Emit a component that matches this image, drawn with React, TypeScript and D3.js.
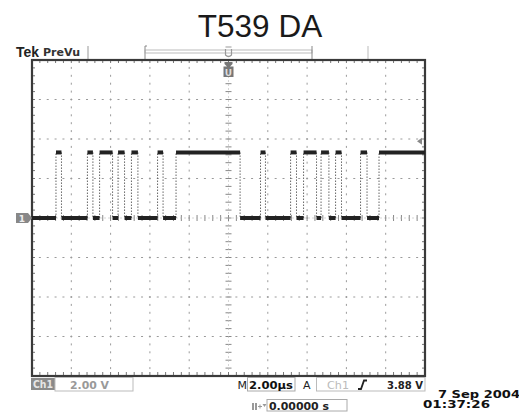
import React from "react";
import * as d3 from "d3";

// ---- data (read from the oscilloscope capture) ----
const title = "T539 DA";
// time at which the Ch1 level changes (µs), first value = left edge of screen
const transitionTimes = [-10, -8.78, -8.5, -7.18, -6.9, -6.56, -5.9, -5.62, -5.29, -4.94, -4.61, -3.61, -3.33, -2.67, 0.59, 1.63, 1.88, 3.16, 3.46, 3.82, 4.48, 4.71, 5.11, 5.45, 5.75, 6.72, 7.05, 7.66];
// level held from each transition time (V)
const levelVolts = [0, 3.32, 0, 3.32, 0, 3.32, 0, 3.32, 0, 3.32, 0, 3.32, 0, 3.32, 0, 3.32, 0, 3.32, 0, 3.32, 0, 3.32, 0, 3.32, 0, 3.32, 0, 3.32];
const timeDomain = [-10, 10]; // µs, 2.00 µs/div
const voltDomain = [-8, 8]; // V, 2.00 V/div
const triggerLevel = 3.88;
const ch1Scale = "2.00 V";
const timeScale = "2.00µs";
const trigLevelText = "3.88 V";
const positionText = "0.00000 s";
const dateText = "7 Sep 2004";
const clockText = "01:37:26";

const W = 519;
const H = 420;
const L = 32, R = 425, T = 60, B = 376;

export default function App() {
  const x = d3.scaleLinear().domain(timeDomain).range([L, R]);
  const y = d3.scaleLinear().domain(voltDomain).range([B, T]);
  const majorT = d3.range(timeDomain[0], timeDomain[1] + 0.001, 2);
  const majorV = d3.range(voltDomain[0], voltDomain[1] + 0.001, 2);
  const minorT = d3.range(timeDomain[0], timeDomain[1] + 0.001, 0.4);
  const minorV = d3.range(voltDomain[0], voltDomain[1] + 0.001, 0.4);
  const cx = x(0), cy = y(0);
  const grid = "#9a9a9a";
  const mono = "'DejaVu Sans', sans-serif";

  const segs = transitionTimes.map((t, i) => ({
    t0: t,
    t1: i + 1 < transitionTimes.length ? transitionTimes[i + 1] : timeDomain[1],
    v: levelVolts[i],
  }));
  const edges = transitionTimes.slice(1).map((t, i) => ({ t, v0: levelVolts[i], v1: levelVolts[i + 1] }));
  const lineGen = d3.line<[number, number]>().x((d) => x(d[0])).y((d) => y(d[1]));

  return (
    <svg width={W} height={H} style={{ position: "absolute", left: 0, top: 0, background: "#fff" }}>
      <text x={260} y={37} textAnchor="middle" fontFamily="'Liberation Sans', Arial, sans-serif" fontSize={31.5} fill="#1a1a1a">{title}</text>

      {/* header */}
      <text x={16} y={56.5} fontFamily="'Liberation Sans', Arial, sans-serif" fontWeight="bold" fontSize={14} fill="#222" textLength={23} lengthAdjust="spacingAndGlyphs">Tek</text>
      <text x={43} y={56} fontFamily={mono} fontWeight="bold" fontSize={11} fill="#333" textLength={37} lengthAdjust="spacingAndGlyphs">PreVu</text>
      <line x1={88} x2={88} y1={46} y2={59} stroke="#999" />
      <line x1={145} x2={145} y1={46} y2={59} stroke="#888" />
      <line x1={145} x2={147} y1={46} y2={46} stroke="#888" />
      <rect x={145} y={50} width={167} height={3} fill="none" stroke="#aaa" strokeWidth={0.8} />
      <line x1={312} x2={312} y1={46} y2={59} stroke="#888" />
      <line x1={368} x2={368} y1={46} y2={59} stroke="#bbb" />
      <path d={`M${cx - 3},47 L${cx + 3},47 M${cx - 3},49 L${cx - 3},55 Q${cx},58 ${cx + 3},55 L${cx + 3},49`} fill="none" stroke="#999" strokeWidth={1.2} />

      {/* grid dots */}
      {majorT.filter((t) => t !== 0 && t !== timeDomain[0] && t !== timeDomain[1]).map((t) =>
        minorV.map((v) => <line key={`gv${t}_${v}`} x1={x(t)} x2={x(t)} y1={y(v) - 1} y2={y(v) + 1} stroke={grid} strokeWidth={1} />)
      )}
      {majorV.filter((v) => v !== 0 && v !== voltDomain[0] && v !== voltDomain[1]).map((v) =>
        minorT.map((t) => <line key={`gh${t}_${v}`} x1={x(t) - 1} x2={x(t) + 1} y1={y(v)} y2={y(v)} stroke={grid} strokeWidth={1} />)
      )}
      {/* center cross */}
      {minorV.map((v) => <line key={`cv${v}`} x1={cx - 3} x2={cx + 3} y1={y(v)} y2={y(v)} stroke="#888" strokeWidth={1} />)}
      <line x1={cx} x2={cx} y1={T} y2={B} stroke="#bbb" strokeWidth={0.6} strokeDasharray="2 2" />
      {minorT.map((t) => <line key={`ch${t}`} x1={x(t)} x2={x(t)} y1={cy - 3} y2={cy + 3} stroke="#888" strokeWidth={1} />)}
      <line x1={L} x2={R} y1={cy} y2={cy} stroke="#bbb" strokeWidth={0.6} strokeDasharray="2 2" />

      {/* border ticks */}
      {minorT.map((t) => (
        <g key={`bt${t}`}>
          <line x1={x(t)} x2={x(t)} y1={T} y2={T + 3} stroke="#777" />
          <line x1={x(t)} x2={x(t)} y1={B} y2={B - 4} stroke="#777" />
        </g>
      ))}
      {minorV.map((v) => (
        <g key={`bv${v}`}>
          <line x1={L} x2={L + 3} y1={y(v)} y2={y(v)} stroke="#777" />
          <line x1={R} x2={R - 3} y1={y(v)} y2={y(v)} stroke="#777" />
        </g>
      ))}
      <rect x={L} y={T} width={R - L} height={B - T} fill="none" stroke="#3a3a3a" strokeWidth={2.2} />

      {/* waveform edges */}
      {edges.map((e, i) => (
        <path key={`e${i}`} d={lineGen([[e.t, e.v0], [e.t, e.v1]]) || ""} stroke="#666" strokeWidth={1} strokeDasharray="1.5 1.5" fill="none" />
      ))}
      {/* waveform levels */}
      {segs.map((s, i) => (
        <path key={`s${i}`} d={lineGen([[s.t0, s.v], [s.t1, s.v]]) || ""} stroke="#222" strokeWidth={4} fill="none" />
      ))}

      {/* markers */}
      <path d={`M${cx - 4},62 L${cx + 4},62 L${cx + 4},64 L${cx + 1.5},66.5 L${cx + 5},66.5 L${cx + 5},77 L${cx - 5},77 L${cx - 5},66.5 L${cx - 1.5},66.5 L${cx - 4},64 Z`} fill="#777" />
      <text x={cx} y={75.5} textAnchor="middle" fontFamily={mono} fontWeight="bold" fontSize={9} fill="#ddd">U</text>
      <path d={`M16,213 L28,213 L32,${cy} L28,223 L16,223 Z`} fill="#888" />
      <text x={22} y={221.5} textAnchor="middle" fontFamily={mono} fontWeight="bold" fontSize={9} fill="#eee">1</text>
      <path d={`M417,${y(triggerLevel)} L422,${y(triggerLevel) - 3.5} L422,${y(triggerLevel) + 3.5} Z`} fill="#888" />

      {/* status line */}
      <rect x={31} y={378} width={24} height={12} fill="#8a8a8a" />
      <text x={33} y={388} fontFamily={mono} fontWeight="bold" fontSize={10.5} fill="#e6e6e6" textLength={20} lengthAdjust="spacingAndGlyphs">Ch1</text>
      <rect x={55} y={377.5} width={78} height={13.5} fill="none" stroke="#bbb" />
      <text x={70} y={388.5} fontFamily={mono} fontWeight="bold" fontSize={11} fill="#999" textLength={39} lengthAdjust="spacingAndGlyphs">{ch1Scale}</text>

      <text x={237.5} y={388.5} fontFamily={mono} fontSize={11} fill="#222">M</text>
      <rect x={247.5} y={377.5} width={47.5} height={13.5} fill="none" stroke="#aaa" />
      <text x={249} y={388.5} fontFamily={mono} fontWeight="bold" fontSize={11} fill="#111" textLength={44} lengthAdjust="spacingAndGlyphs">{timeScale}</text>
      <text x={303} y={388.5} fontFamily={mono} fontSize={11} fill="#222">A</text>
      <rect x={316.5} y={377.5} width={108.5} height={13.5} fill="none" stroke="#bbb" />
      <text x={327} y={388.5} fontFamily={mono} fontSize={11} fill="#bbb" textLength={22} lengthAdjust="spacingAndGlyphs">Ch1</text>
      <path d="M358,389 L361,389 L364,380.5 L367,380.5" fill="none" stroke="#222" strokeWidth={1.8} />
      <text x={387} y={388.5} fontFamily={mono} fontWeight="bold" fontSize={11} fill="#222" textLength={36} lengthAdjust="spacingAndGlyphs">{trigLevelText}</text>

      <rect x={252} y={403} width={2} height={7} fill="#999" />
      <rect x={255} y={403} width={2} height={7} fill="#999" />
      <path d="M258,406.5 L262,406.5 M260,404.5 L260,408.5" stroke="#999" strokeWidth={1} />
      <path d="M262.5,404 L266.5,404 L264.5,407 Z" fill="#999" />
      <rect x={267} y={399.5} width={80} height={11.5} fill="none" stroke="#aaa" />
      <text x={269} y={409.5} fontFamily={mono} fontWeight="bold" fontSize={11} fill="#222" textLength={60} lengthAdjust="spacingAndGlyphs">{positionText}</text>

      <text x={438} y={397.5} fontFamily={mono} fontWeight="bold" fontSize={10.5} fill="#111" textLength={82} lengthAdjust="spacingAndGlyphs">{dateText}</text>
      <text x={423} y={408} fontFamily={mono} fontWeight="bold" fontSize={10.5} fill="#111" textLength={67} lengthAdjust="spacingAndGlyphs">{clockText}</text>
    </svg>
  );
}
